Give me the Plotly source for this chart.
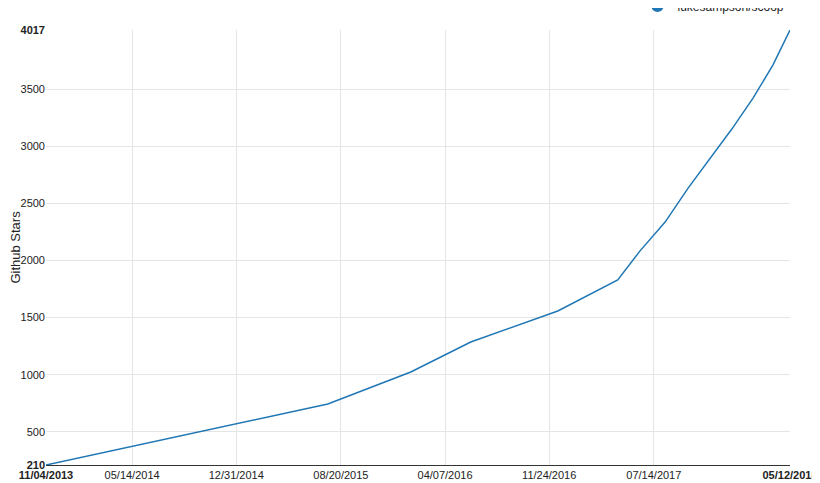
import plotly.graph_objects as go

dates = ["2013-11-04","2015-07-22","2016-01-22","2016-06-03","2016-12-13","2017-04-25",
         "2017-06-13","2017-08-08","2017-09-28","2017-11-18","2018-01-03","2018-02-19",
         "2018-04-04","2018-05-12"]
stars = [210,744,1024,1286,1558,1829,2082,2336,2633,2905,3150,3421,3710,4017]
x_ticks = ["2013-11-04","2014-05-14","2014-12-31","2015-08-20","2016-04-07","2016-11-24","2017-07-14","2018-05-12"]
x_labels = ["<b>11/04/2013</b>","05/14/2014","12/31/2014","08/20/2015","04/07/2016","11/24/2016","07/14/2017","<b>05/12/2018</b>"]
y_ticks = [210,500,1000,1500,2000,2500,3000,3500,4017]
y_labels = ["<b>210</b>","500","1000","1500","2000","2500","3000","3500","<b>4017</b>"]

fig = go.Figure()
fig.add_trace(go.Scatter(x=dates, y=stars, mode="lines", name="lukesampson/scoop", showlegend=False,
                         line=dict(color="#1f77b4", width=1.5)))
fig.add_trace(go.Scatter(x=[None], y=[None], mode="markers", name="lukesampson/scoop",
                         marker=dict(color="#1f77b4", size=12)))
fig.update_layout(
    width=820, height=483, margin=dict(l=38, r=38, t=22, b=26, autoexpand=False),
    plot_bgcolor="white", paper_bgcolor="white",
    font=dict(family="Liberation Sans, Arial", size=11, color="#222"),
    showlegend=True,
    legend=dict(x=0.795, xanchor="left", y=1.055, yanchor="middle",
                font=dict(size=12), bgcolor="rgba(0,0,0,0)"),
    xaxis=dict(type="date", range=["2013-11-04","2018-05-12"], tickvals=x_ticks, ticktext=x_labels,
               showgrid=True, gridcolor="#e5e5e5", showline=True, linecolor="#333", ticks="", zeroline=False),
    yaxis=dict(range=[210,4017], tickvals=y_ticks, ticktext=y_labels, showgrid=True, gridcolor="#e5e5e5",
               title=dict(text="Github Stars", standoff=4), zeroline=False, ticks="", automargin=False),
)
fig.write_html("out.html")
